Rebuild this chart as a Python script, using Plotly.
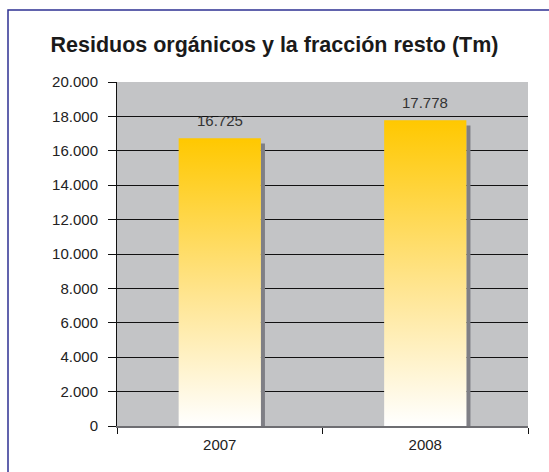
import plotly.graph_objects as go

years = ["2007", "2008"]
toneladas = [16725, 17778]
etiquetas = ["16.725", "17.778"]

titulo = "Residuos orgánicos y la fracción resto (Tm)"
y_ticks = list(range(0, 20001, 2000))

BAR_HALF = 0.2
SHADOW_W = 0.02
SHADOW_DROP = 300

fig = go.Figure()

for i, v in enumerate(toneladas):
    # sombra gris a la derecha de la barra
    fig.add_trace(
        go.Scatter(
            x=[i + BAR_HALF, i + BAR_HALF + SHADOW_W, i + BAR_HALF + SHADOW_W, i + BAR_HALF],
            y=[0, 0, v - SHADOW_DROP, v - SHADOW_DROP],
            fill="toself",
            fillcolor="#7F7F85",
            line=dict(width=0),
            mode="lines",
            hoverinfo="skip",
            showlegend=False,
        )
    )
    # barra con degradado
    fig.add_trace(
        go.Scatter(
            x=[i - BAR_HALF, i + BAR_HALF, i + BAR_HALF, i - BAR_HALF],
            y=[0, 0, v, v],
            fill="toself",
            fillgradient=dict(
                type="vertical",
                colorscale=[[0, "#FFFFFF"], [0.45, "#FFE591"], [1, "#FFC800"]],
            ),
            line=dict(width=0),
            mode="lines",
            name=years[i],
            showlegend=False,
        )
    )

fig.update_layout(
    width=549,
    height=472,
    margin=dict(l=117, r=21, t=82, b=46),
    paper_bgcolor="white",
    plot_bgcolor="#C3C4C6",
    separators=",.",
    font=dict(family="Liberation Sans, Arial, sans-serif", size=15, color="#222222"),
    title=dict(
        text=f"<b>{titulo}</b>",
        x=0.5,
        xanchor="center",
        y=1 - 44 / 472,
        yanchor="middle",
        yref="container",
        font=dict(family="Liberation Sans, Arial, sans-serif", size=21.5, color="#1A1A1A"),
    ),
    xaxis=dict(
        range=[-0.5, 1.5],
        tickvals=[0, 1],
        ticktext=years,
        ticks="",
        showgrid=False,
        zeroline=False,
        showline=True,
        linecolor="#6E6E72",
        linewidth=2,
        ticklabelstandoff=4,
        minor=dict(
            tickvals=[-0.5, 0.5, 1.5],
            ticks="outside",
            ticklen=6,
            tickcolor="#111111",
            tickwidth=1,
            showgrid=False,
        ),
        fixedrange=True,
    ),
    yaxis=dict(
        range=[0, 20000],
        tickvals=y_ticks,
        tickformat=",d",
        ticks="outside",
        ticklen=8,
        tickcolor="#111111",
        ticklabelstandoff=7,
        showline=True,
        linecolor="#111111",
        linewidth=1,
        showgrid=True,
        gridcolor="#111111",
        gridwidth=1,
        zeroline=False,
        fixedrange=True,
    ),
    shapes=[
        dict(
            type="rect",
            xref="paper",
            yref="paper",
            x0=(8 - 117) / 411,
            x1=(560 - 117) / 411,
            y0=(426 - 490) / 344,
            y1=(426 - 10) / 344,
            line=dict(color="#2E3192", width=1.5),
            fillcolor="rgba(0,0,0,0)",
            layer="below",
        )
    ],
    annotations=[
        dict(
            x=i,
            y=v,
            text=etiquetas[i],
            showarrow=False,
            yanchor="bottom",
            yshift=7,
            font=dict(size=15, color="#333333"),
        )
        for i, v in enumerate(toneladas)
    ],
)

fig.write_html(
    "out.html",
    config={"displayModeBar": False},
    post_script="document.body.style.margin='0';",
)
